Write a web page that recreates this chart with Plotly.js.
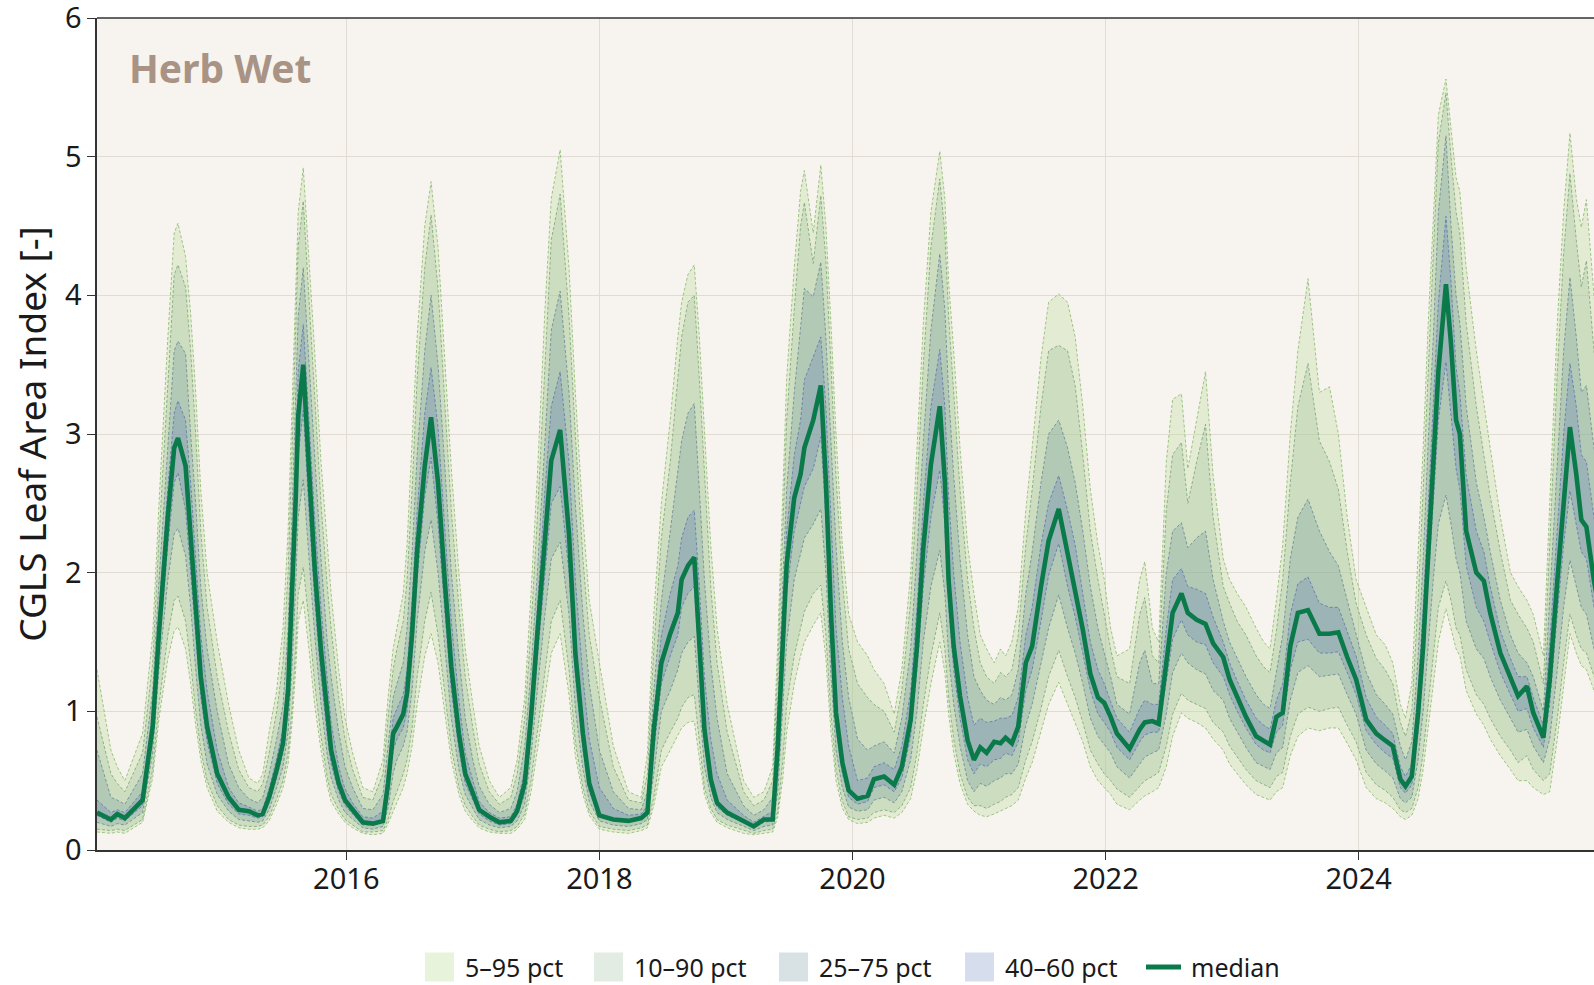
<!DOCTYPE html>
<html>
<head>
<meta charset="utf-8">
<script src="https://cdn.plot.ly/plotly-3.0.1.min.js"></script>
<style>html,body{margin:0;padding:0;background:#ffffff;overflow:hidden}</style>
</head>
<body>
<div id="chart" style="width:1594px;height:985px"></div>
<script>
// time in decimal years
const t = [
2014.03,2014.14,2014.19,2014.25,2014.39,2014.47,2014.52,2014.59,2014.64,2014.67,2014.73,2014.77,2014.81,2014.85,2014.90,2014.98,
2015.07,2015.15,2015.23,2015.30,2015.34,2015.39,2015.45,2015.50,2015.54,2015.57,2015.60,2015.62,2015.66,2015.705,2015.75,2015.80,2015.85,2015.88,2015.94,2015.99,
2016.05,2016.13,2016.21,2016.29,2016.33,2016.37,2016.40,2016.45,2016.48,2016.52,2016.56,2016.62,2016.67,2016.725,2016.78,2016.83,2016.89,2016.94,
2017.00,2017.05,2017.13,2017.21,2017.30,2017.35,2017.41,2017.46,2017.51,2017.57,2017.62,2017.69,2017.76,2017.81,2017.87,2017.92,
2018.00,2018.11,2018.23,2018.33,2018.38,2018.43,2018.49,2018.56,2018.62,2018.65,2018.70,2018.75,2018.79,2018.83,2018.88,2018.93,
2019.01,2019.14,2019.22,2019.30,2019.37,2019.41,2019.45,2019.48,2019.54,2019.59,2019.62,2019.69,2019.75,2019.79,2019.83,2019.87,2019.92,2019.97,
2020.04,2020.12,2020.17,2020.25,2020.33,2020.39,2020.46,2020.51,2020.56,2020.62,2020.69,2020.73,2020.76,2020.80,2020.85,2020.91,2020.96,
2021.01,2021.06,2021.12,2021.17,2021.21,2021.26,2021.31,2021.37,2021.42,2021.49,2021.55,2021.63,2021.70,2021.76,2021.82,2021.88,2021.94,2021.99,
2022.04,2022.09,2022.19,2022.27,2022.31,2022.37,2022.42,2022.48,2022.53,2022.60,2022.65,2022.72,2022.79,2022.85,2022.93,2022.98,
2023.04,2023.11,2023.19,2023.25,2023.30,2023.35,2023.40,2023.46,2023.52,2023.60,2023.69,2023.77,2023.84,2023.91,2023.98,
2024.06,2024.14,2024.21,2024.27,2024.33,2024.37,2024.42,2024.47,2024.51,2024.55,2024.59,2024.63,2024.69,2024.73,2024.77,2024.80,2024.85,2024.93,2024.99,
2025.04,2025.12,2025.20,2025.26,2025.33,2025.38,2025.46,2025.51,2025.57,2025.62,2025.67,2025.72,2025.76,2025.80,2025.86,2025.95
];

const p05 = [
0.13,0.12,0.13,0.12,0.20,0.52,0.95,1.38,1.58,1.61,1.45,1.20,0.90,0.65,0.45,0.28,
0.20,0.16,0.15,0.15,0.16,0.21,0.33,0.45,0.62,0.90,1.30,1.65,1.80,1.45,1.05,0.72,0.46,0.35,0.26,0.20,
0.16,0.12,0.11,0.12,0.19,0.28,0.34,0.45,0.55,0.75,1.05,1.40,1.56,1.35,0.98,0.65,0.40,0.28,
0.21,0.16,0.13,0.12,0.12,0.15,0.22,0.42,0.72,1.12,1.42,1.56,1.12,0.68,0.40,0.25,
0.15,0.13,0.12,0.14,0.16,0.32,0.60,0.72,0.82,0.88,0.92,0.93,0.66,0.40,0.27,0.20,
0.16,0.12,0.11,0.12,0.13,0.24,0.52,0.85,1.20,1.40,1.50,1.62,1.71,1.38,0.85,0.50,0.30,0.22,
0.19,0.20,0.23,0.25,0.23,0.27,0.37,0.58,0.88,1.20,1.50,1.28,0.98,0.70,0.48,0.33,0.28,
0.25,0.24,0.26,0.28,0.30,0.32,0.36,0.52,0.63,0.85,1.05,1.21,1.05,0.92,0.78,0.60,0.50,0.45,
0.40,0.33,0.29,0.36,0.39,0.42,0.45,0.60,0.82,0.99,0.95,0.92,0.88,0.80,0.72,0.62,
0.55,0.47,0.40,0.38,0.36,0.42,0.45,0.68,0.82,0.88,0.86,0.88,0.88,0.77,0.65,
0.45,0.37,0.34,0.30,0.24,0.22,0.25,0.37,0.58,0.88,1.20,1.50,1.74,1.60,1.45,1.40,1.15,0.98,0.90,
0.80,0.68,0.58,0.50,0.50,0.45,0.40,0.42,0.80,1.20,1.56,1.42,1.33,1.30,1.15,0.90
];
const p10 = [
0.15,0.14,0.15,0.14,0.22,0.58,1.05,1.55,1.80,1.83,1.65,1.35,1.00,0.72,0.50,0.32,
0.22,0.18,0.17,0.17,0.18,0.24,0.37,0.50,0.70,1.00,1.45,1.85,2.04,1.65,1.20,0.82,0.52,0.40,0.29,0.22,
0.18,0.13,0.13,0.14,0.22,0.35,0.42,0.55,0.65,0.88,1.25,1.65,1.86,1.55,1.12,0.74,0.45,0.32,
0.24,0.18,0.15,0.13,0.14,0.17,0.26,0.50,0.85,1.30,1.65,1.80,1.30,0.78,0.45,0.28,
0.17,0.15,0.14,0.16,0.18,0.38,0.72,0.85,0.95,1.03,1.10,1.12,0.78,0.45,0.30,0.22,
0.18,0.14,0.12,0.14,0.15,0.28,0.65,1.05,1.40,1.60,1.72,1.85,1.91,1.55,0.98,0.58,0.35,0.24,
0.22,0.23,0.27,0.29,0.27,0.32,0.45,0.70,1.05,1.40,1.71,1.45,1.10,0.80,0.55,0.38,0.32,
0.32,0.30,0.33,0.35,0.38,0.40,0.45,0.65,0.78,1.02,1.25,1.44,1.25,1.10,0.92,0.72,0.62,0.55,
0.50,0.44,0.38,0.46,0.50,0.53,0.56,0.75,0.98,1.13,1.08,1.05,1.02,0.92,0.85,0.75,
0.67,0.58,0.50,0.47,0.45,0.53,0.56,0.82,0.98,1.03,1.00,1.02,1.03,0.90,0.78,
0.56,0.47,0.43,0.38,0.29,0.27,0.30,0.45,0.70,1.05,1.42,1.75,1.94,1.80,1.60,1.55,1.30,1.12,1.05,
0.95,0.82,0.72,0.63,0.68,0.58,0.50,0.55,0.95,1.35,1.70,1.55,1.45,1.42,1.25,1.00
];
const p25 = [
0.20,0.17,0.19,0.18,0.27,0.70,1.30,1.95,2.28,2.32,2.12,1.75,1.30,0.90,0.62,0.40,
0.28,0.22,0.21,0.20,0.21,0.29,0.45,0.60,0.85,1.30,1.90,2.40,2.67,2.10,1.55,1.05,0.68,0.52,0.36,0.27,
0.22,0.16,0.15,0.17,0.30,0.55,0.65,0.75,0.85,1.15,1.65,2.15,2.38,2.00,1.45,0.95,0.58,0.40,
0.30,0.22,0.18,0.16,0.17,0.21,0.33,0.68,1.15,1.70,2.10,2.22,1.70,1.02,0.58,0.35,
0.21,0.18,0.17,0.19,0.22,0.55,1.00,1.15,1.30,1.42,1.50,1.54,1.05,0.60,0.38,0.27,
0.22,0.17,0.14,0.17,0.18,0.42,1.00,1.50,1.95,2.15,2.25,2.35,2.46,2.00,1.25,0.72,0.45,0.31,
0.28,0.29,0.36,0.38,0.34,0.42,0.65,1.00,1.50,1.90,2.16,1.85,1.40,1.05,0.75,0.50,0.42,
0.48,0.46,0.50,0.52,0.55,0.55,0.62,0.90,1.05,1.35,1.60,1.84,1.60,1.42,1.20,0.95,0.82,0.76,
0.70,0.60,0.52,0.62,0.67,0.70,0.72,0.98,1.28,1.42,1.35,1.30,1.27,1.15,1.08,0.95,
0.85,0.74,0.63,0.60,0.58,0.70,0.74,1.08,1.28,1.33,1.25,1.26,1.27,1.12,0.98,
0.72,0.62,0.57,0.52,0.37,0.34,0.38,0.65,1.00,1.50,1.95,2.35,2.56,2.35,2.10,2.00,1.65,1.45,1.38,
1.25,1.08,0.95,0.85,0.87,0.75,0.63,0.80,1.30,1.75,2.09,1.90,1.75,1.70,1.45,1.20
];
const p40 = [
0.25,0.20,0.23,0.21,0.32,0.80,1.45,2.20,2.65,2.72,2.45,2.00,1.50,1.10,0.78,0.48,
0.33,0.26,0.25,0.23,0.24,0.34,0.52,0.70,1.00,1.60,2.25,2.85,3.17,2.45,1.80,1.25,0.82,0.62,0.42,0.32,
0.26,0.18,0.18,0.20,0.38,0.72,0.80,0.88,1.00,1.40,1.95,2.55,2.83,2.35,1.70,1.15,0.72,0.48,
0.36,0.26,0.21,0.18,0.19,0.25,0.40,0.82,1.38,2.00,2.50,2.62,2.00,1.25,0.72,0.42,
0.24,0.21,0.20,0.22,0.25,0.72,1.20,1.40,1.55,1.75,1.85,1.90,1.30,0.75,0.45,0.31,
0.25,0.20,0.16,0.20,0.21,0.60,1.30,1.85,2.30,2.50,2.62,2.75,2.98,2.40,1.50,0.88,0.55,0.38,
0.33,0.35,0.45,0.47,0.42,0.52,0.82,1.30,1.90,2.40,2.74,2.35,1.75,1.30,0.95,0.65,0.55,
0.62,0.60,0.65,0.66,0.70,0.68,0.78,1.15,1.30,1.65,1.98,2.21,1.90,1.68,1.42,1.15,0.98,0.92,
0.85,0.74,0.65,0.78,0.83,0.85,0.85,1.20,1.52,1.66,1.55,1.50,1.48,1.35,1.25,1.12,
1.00,0.88,0.76,0.72,0.70,0.85,0.90,1.30,1.50,1.52,1.42,1.42,1.43,1.28,1.12,
0.86,0.76,0.70,0.66,0.45,0.41,0.47,0.85,1.30,1.95,2.50,3.10,3.52,3.15,2.75,2.60,2.05,1.75,1.65,
1.50,1.28,1.12,1.00,1.02,0.88,0.74,1.05,1.70,2.20,2.59,2.35,2.15,2.10,1.75,1.45
];
const p50 = [
0.27,0.22,0.26,0.23,0.36,0.89,1.57,2.41,2.90,2.97,2.77,2.28,1.71,1.25,0.89,0.55,
0.38,0.29,0.28,0.25,0.26,0.38,0.58,0.77,1.15,1.80,2.53,3.13,3.50,2.75,2.04,1.44,0.96,0.72,0.48,0.36,
0.29,0.20,0.19,0.21,0.48,0.84,0.89,0.98,1.13,1.56,2.16,2.77,3.12,2.65,1.92,1.32,0.84,0.55,
0.41,0.29,0.24,0.20,0.21,0.28,0.48,0.96,1.56,2.28,2.81,3.03,2.28,1.42,0.84,0.48,
0.25,0.22,0.21,0.23,0.27,0.87,1.35,1.56,1.71,1.95,2.05,2.11,1.47,0.87,0.51,0.34,
0.27,0.21,0.17,0.22,0.22,0.75,1.47,2.06,2.54,2.71,2.90,3.10,3.35,2.66,1.71,0.99,0.63,0.43,
0.37,0.39,0.51,0.53,0.47,0.60,0.94,1.47,2.18,2.78,3.20,2.66,1.94,1.47,1.11,0.79,0.65,
0.74,0.70,0.78,0.77,0.81,0.77,0.89,1.35,1.47,1.90,2.23,2.46,2.14,1.90,1.59,1.27,1.10,1.06,
0.96,0.84,0.73,0.87,0.92,0.93,0.91,1.35,1.71,1.85,1.71,1.66,1.63,1.49,1.39,1.23,
1.11,0.96,0.82,0.79,0.76,0.96,0.99,1.47,1.71,1.73,1.56,1.56,1.57,1.39,1.23,
0.94,0.84,0.79,0.75,0.51,0.46,0.53,0.99,1.47,2.18,2.78,3.45,4.08,3.65,3.10,3.00,2.30,2.00,1.94,
1.71,1.42,1.23,1.11,1.18,0.99,0.81,1.23,1.94,2.54,3.05,2.71,2.38,2.33,1.94,1.50
];
const p60 = [
0.36,0.27,0.29,0.27,0.42,0.98,1.72,2.62,3.15,3.24,3.10,2.65,2.10,1.55,1.15,0.72,
0.45,0.34,0.31,0.28,0.30,0.44,0.66,0.88,1.30,2.05,2.80,3.45,3.79,3.10,2.40,1.75,1.20,0.92,0.60,0.44,
0.34,0.24,0.23,0.28,0.58,0.95,1.02,1.12,1.30,1.80,2.45,3.15,3.48,3.05,2.30,1.65,1.08,0.70,
0.50,0.35,0.27,0.23,0.24,0.33,0.58,1.10,1.75,2.60,3.20,3.45,2.80,1.95,1.25,0.80,
0.45,0.30,0.25,0.26,0.32,0.98,1.55,1.85,2.05,2.25,2.40,2.45,1.90,1.25,0.80,0.55,
0.36,0.25,0.20,0.24,0.28,0.88,1.70,2.30,2.85,3.10,3.39,3.55,3.70,3.20,2.35,1.60,1.10,0.75,
0.50,0.52,0.60,0.63,0.58,0.75,1.15,1.75,2.50,3.20,3.61,3.20,2.55,2.00,1.50,1.10,0.90,
0.95,0.92,0.93,0.95,0.95,0.97,1.10,1.55,1.75,2.20,2.50,2.70,2.45,2.20,1.85,1.50,1.30,1.20,
1.07,0.95,0.85,1.02,1.08,1.05,1.05,1.60,1.95,2.03,1.90,1.88,1.85,1.68,1.50,1.35,
1.22,1.08,0.95,0.90,0.87,1.08,1.20,1.70,1.92,1.97,1.78,1.75,1.75,1.58,1.40,
1.10,0.96,0.90,0.84,0.60,0.53,0.62,1.15,1.75,2.50,3.20,3.95,4.57,4.10,3.48,3.30,2.70,2.30,2.15,
1.90,1.58,1.38,1.25,1.25,1.10,0.90,1.50,2.35,3.00,3.51,3.20,2.85,2.80,2.40,2.00
];
const p75 = [
0.72,0.38,0.36,0.33,0.55,1.15,1.95,2.95,3.60,3.67,3.58,3.00,2.50,1.90,1.45,1.00,
0.62,0.45,0.37,0.34,0.38,0.55,0.80,1.05,1.60,2.40,3.20,3.85,4.20,3.50,2.85,2.10,1.50,1.25,0.85,0.60,
0.45,0.30,0.29,0.40,0.75,1.10,1.20,1.35,1.60,2.15,2.85,3.60,4.00,3.50,2.75,2.00,1.40,0.95,
0.65,0.46,0.33,0.27,0.30,0.42,0.75,1.30,2.00,3.00,3.75,4.03,3.30,2.50,1.70,1.20,
0.72,0.42,0.30,0.29,0.42,1.15,1.80,2.30,2.75,2.95,3.15,3.22,2.60,1.95,1.35,0.95,
0.55,0.32,0.25,0.29,0.38,1.05,1.95,2.60,3.30,3.80,4.05,3.99,4.24,3.70,2.90,2.20,1.50,1.10,
0.80,0.72,0.75,0.78,0.70,0.95,1.45,2.15,2.95,3.75,4.30,3.90,3.30,2.70,2.10,1.55,1.25,
1.15,1.08,1.05,1.10,1.08,1.12,1.30,1.85,2.15,2.65,3.00,3.10,2.90,2.65,2.30,1.90,1.60,1.42,
1.25,1.05,0.98,1.35,1.44,1.20,1.20,2.00,2.30,2.36,2.18,2.25,2.30,1.95,1.65,1.50,
1.38,1.25,1.12,1.05,1.02,1.28,1.55,2.10,2.40,2.53,2.30,2.15,2.05,1.80,1.55,
1.28,1.12,1.05,0.98,0.75,0.65,0.78,1.40,2.10,2.95,3.70,4.60,5.15,4.50,4.00,3.80,3.20,2.65,2.40,
2.15,1.80,1.55,1.42,1.35,1.25,1.00,1.80,2.85,3.60,4.13,3.70,3.30,3.35,2.90,2.40
];
const p90 = [
0.96,0.55,0.48,0.42,0.70,1.35,2.25,3.40,4.15,4.22,4.06,3.60,3.00,2.30,1.75,1.25,
0.85,0.58,0.45,0.42,0.48,0.70,1.00,1.35,2.00,2.85,3.70,4.35,4.68,4.00,3.30,2.50,1.90,1.60,1.10,0.80,
0.58,0.38,0.36,0.55,0.95,1.30,1.45,1.65,1.95,2.60,3.40,4.20,4.58,4.05,3.20,2.45,1.75,1.25,
0.88,0.62,0.42,0.33,0.38,0.55,0.95,1.60,2.40,3.55,4.40,4.73,3.85,3.00,2.10,1.55,
1.10,0.60,0.36,0.34,0.55,1.45,2.25,2.80,3.40,3.70,3.95,4.00,3.40,2.70,1.90,1.35,
0.85,0.42,0.32,0.36,0.50,1.30,2.35,3.10,3.90,4.50,4.67,4.23,4.72,4.25,3.50,2.70,1.95,1.45,
1.20,1.10,1.05,1.00,0.85,1.15,1.80,2.60,3.50,4.35,4.84,4.45,3.85,3.30,2.60,1.95,1.60,
1.35,1.25,1.20,1.28,1.25,1.30,1.55,2.20,2.60,3.20,3.60,3.64,3.60,3.35,2.85,2.30,1.95,1.70,
1.45,1.25,1.20,1.70,1.82,1.40,1.35,2.45,2.85,2.94,2.50,2.80,3.07,2.40,1.90,1.78,
1.65,1.55,1.40,1.32,1.28,1.58,1.95,2.65,3.20,3.51,2.95,2.80,2.60,2.15,1.78,
1.55,1.38,1.30,1.20,0.92,0.82,1.00,1.80,2.60,3.50,4.30,5.10,5.46,5.00,4.60,4.45,3.80,3.20,2.85,
2.55,2.15,1.80,1.70,1.60,1.50,1.20,2.20,3.45,4.30,4.88,4.40,4.06,4.25,3.60,3.00
];
const p95 = [
1.30,0.72,0.60,0.50,0.84,1.55,2.50,3.70,4.45,4.52,4.28,3.87,3.30,2.60,2.00,1.50,
1.05,0.72,0.52,0.48,0.55,0.85,1.15,1.60,2.30,3.20,4.00,4.60,4.92,4.30,3.60,2.80,2.20,1.85,1.30,0.95,
0.70,0.45,0.42,0.65,1.10,1.45,1.60,1.85,2.20,2.90,3.70,4.50,4.82,4.35,3.50,2.75,2.00,1.45,
1.05,0.75,0.50,0.38,0.45,0.65,1.10,1.85,2.70,3.90,4.70,5.05,4.20,3.30,2.40,1.80,
1.35,0.75,0.42,0.38,0.70,1.70,2.50,3.10,3.70,3.95,4.15,4.22,3.70,3.00,2.20,1.60,
1.05,0.50,0.38,0.42,0.60,1.50,2.60,3.40,4.20,4.75,4.90,4.45,4.94,4.50,3.80,3.00,2.20,1.70,
1.50,1.40,1.30,1.20,0.98,1.30,2.00,2.90,3.80,4.60,5.04,4.70,4.10,3.60,2.90,2.20,1.85,
1.55,1.45,1.35,1.45,1.40,1.50,1.75,2.45,2.90,3.55,3.95,4.01,3.95,3.70,3.20,2.60,2.20,1.95,
1.60,1.40,1.45,1.95,2.08,1.60,1.50,2.80,3.25,3.29,2.75,3.10,3.45,2.70,2.10,1.95,
1.85,1.75,1.60,1.50,1.45,1.80,2.20,3.00,3.60,4.12,3.30,3.34,3.00,2.40,1.95,
1.75,1.55,1.48,1.35,1.05,0.95,1.20,2.10,2.90,3.80,4.60,5.30,5.56,5.20,4.85,4.75,4.20,3.60,3.20,
2.90,2.40,2.00,1.90,1.80,1.70,1.40,2.50,3.80,4.60,5.17,4.70,4.49,4.69,4.00,3.30
];

const bandNames = ['5–95 pct','10–90 pct','25–75 pct','40–60 pct'];
const medianName = 'median';
const yearTicks = [2016, 2018, 2020, 2022, 2024];
const yearTickText = ['2016', '2018', '2020', '2022', '2024'];
const panelLabel = 'Herb Wet';
const yTitle = 'CGLS Leaf Area Index [-]';

const bandStyle = [
  {lo:p05, hi:p95, fill:'rgba(190,222,158,0.36)', line:'rgba(125,178,95,0.8)'},
  {lo:p10, hi:p90, fill:'rgba(140,180,140,0.25)', line:'rgba(105,150,105,0.75)'},
  {lo:p25, hi:p75, fill:'rgba(100,140,150,0.25)', line:'rgba(90,120,140,0.75)'},
  {lo:p40, hi:p60, fill:'rgba(90,120,185,0.25)',  line:'rgba(80,105,170,0.75)'}
];
const medianColor = '#0b7a4a';

const traces = [];
bandStyle.forEach((b, i) => {
  traces.push({x:t, y:b.lo, type:'scatter', mode:'lines', line:{width:0, color:b.line},
               showlegend:false, hoverinfo:'skip'});
  traces.push({x:t, y:b.hi, type:'scatter', mode:'lines', fill:'tonexty', fillcolor:b.fill,
               line:{width:0, color:b.line}, name:bandNames[i], showlegend:false});
});
bandStyle.forEach((b) => {
  [b.lo, b.hi].forEach(arr => {
    traces.push({x:t, y:arr, type:'scatter', mode:'lines',
                 line:{width:0.9, color:b.line, dash:'3px,2px'},
                 showlegend:false, hoverinfo:'skip'});
  });
});
traces.push({x:t, y:p50, type:'scatter', mode:'lines', name:medianName, showlegend:false,
             line:{width:4.6, color:medianColor}});

// ---- layout geometry (pixels) ----
const W = 1594, H = 985, ML = 97, MR = 0, MT = 18, MB = 135;
const plotW = W - ML - MR, plotH = H - MT - MB;
const px2x = p => (p - ML) / plotW;
const py2y = p => (H - MB - p) / plotH;

// custom legend: square swatches like the reference
const legendY = py2y(967);
const legendSwatchLeft = [425, 594, 779, 965];
const medianSwatchLeft = 1146;
const fontFam = '"Noto Sans", "Open Sans", sans-serif';
const shapes = [
  {type:'line', xref:'paper', yref:'paper', x0:0, x1:1, y0:1, y1:1,
   line:{color:'#333333', width:1.6}}
];
const annotations = [
  {text:'<b>'+panelLabel+'</b>', xref:'paper', yref:'paper', x:0.02, y:0.94,
   xanchor:'left', yanchor:'middle', showarrow:false,
   font:{size:39, color:'#a89384', family:fontFam}}
];
bandStyle.forEach((b, i) => {
  const x0 = legendSwatchLeft[i];
  shapes.push({type:'rect', xref:'paper', yref:'paper',
    xsizemode:'pixel', ysizemode:'pixel', xanchor:px2x(x0), yanchor:legendY,
    x0:0, x1:29, y0:-14.5, y1:14.5, fillcolor:b.fill, line:{width:0}});
  annotations.push({text:bandNames[i], xref:'paper', yref:'paper', x:px2x(x0+38), y:legendY,
    xanchor:'left', yanchor:'middle', showarrow:false,
    font:{size:25, color:'#1a1a1a', family:fontFam}});
});
shapes.push({type:'line', xref:'paper', yref:'paper',
  xsizemode:'pixel', ysizemode:'pixel', xanchor:px2x(medianSwatchLeft), yanchor:legendY,
  x0:0, x1:35, y0:0, y1:0, line:{color:medianColor, width:5}});
annotations.push({text:medianName, xref:'paper', yref:'paper', x:px2x(medianSwatchLeft+43), y:legendY,
  xanchor:'left', yanchor:'middle', showarrow:false,
  font:{size:25, color:'#1a1a1a', family:fontFam}});

const layout = {
  width:W, height:H,
  margin:{l:ML, r:MR, t:MT, b:MB},
  paper_bgcolor:'#ffffff',
  plot_bgcolor:'#f7f4ef',
  font:{family:fontFam, color:'#1a1a1a'},
  showlegend:false,
  xaxis:{
    range:[2014.03, 2025.86],
    tickvals:yearTicks, ticktext:yearTickText,
    showgrid:true, gridcolor:'#e0dbd3', gridwidth:1,
    showline:true, linecolor:'#333333', linewidth:1.6,
    ticks:'outside', ticklen:8, tickcolor:'#333333',
    tickfont:{size:29, color:'#1a1a1a'},
    ticklabelstandoff:-5,
    ticklabeloverflow:'allow',
    zeroline:false
  },
  yaxis:{
    range:[0, 6], dtick:1, tick0:0,
    showgrid:true, gridcolor:'#e0dbd3', gridwidth:1,
    showline:true, linecolor:'#333333', linewidth:1.6,
    ticks:'outside', ticklen:8, tickcolor:'#333333',
    tickfont:{size:29, color:'#1a1a1a'},
    ticklabeloverflow:'allow',
    zeroline:false,
    title:{text:yTitle, font:{size:37, color:'#1a1a1a'}, standoff:7}
  },
  shapes:shapes,
  annotations:annotations
};

Plotly.newPlot('chart', traces, layout, {displayModeBar:false, staticPlot:true});
</script>
</body>
</html>
